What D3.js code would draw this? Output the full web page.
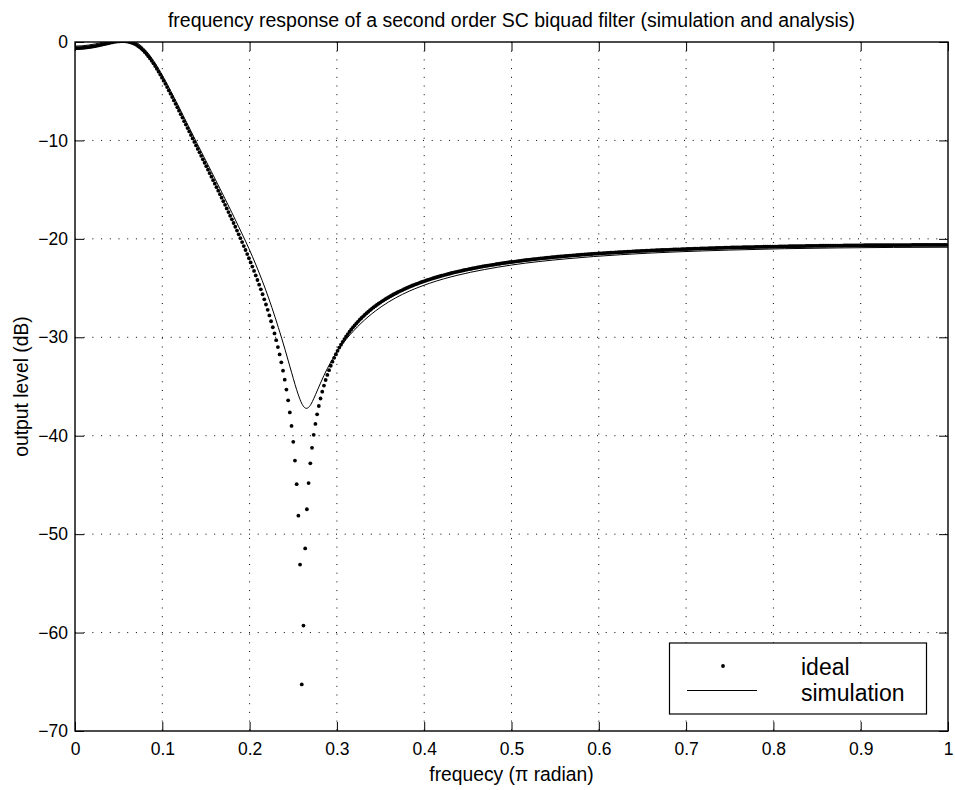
<!DOCTYPE html>
<html>
<head>
<meta charset="utf-8">
<script src="https://cdn.jsdelivr.net/npm/d3@7"></script>
<style>
    body { margin: 0; background: #fff; }
    text { font-family: "Liberation Sans", Arial, Helvetica, sans-serif; fill: #000; }
</style>
</head>
<body>
<div id="chart"></div>
<script>
// ideal response, one value per freqz bin (512 bins over 0..pi)
const idealLevel = [
    -0.64, -0.63, -0.63, -0.62, -0.60, -0.59, -0.57, -0.55, -0.53, -0.50, -0.47, -0.44, -0.41, -0.37, -0.34, -0.30,
    -0.26, -0.22, -0.18, -0.14, -0.10, -0.06, -0.03, 0.01, 0.03, 0.06, 0.07, 0.08, 0.09, 0.08, 0.07, 0.04,
    0.00, -0.05, -0.12, -0.20, -0.29, -0.41, -0.54, -0.68, -0.85, -1.03, -1.23, -1.44, -1.67, -1.91, -2.17, -2.44,
    -2.72, -3.01, -3.31, -3.62, -3.93, -4.25, -4.58, -4.92, -5.25, -5.59, -5.94, -6.28, -6.63, -6.98, -7.33, -7.68,
    -8.04, -8.39, -8.74, -9.09, -9.45, -9.80, -10.15, -10.51, -10.86, -11.21, -11.56, -11.92, -12.27, -12.62, -12.97, -13.33,
    -13.68, -14.04, -14.39, -14.75, -15.10, -15.46, -15.82, -16.18, -16.54, -16.91, -17.28, -17.65, -18.02, -18.39, -18.77, -19.16,
    -19.54, -19.93, -20.33, -20.73, -21.13, -21.55, -21.96, -22.39, -22.82, -23.26, -23.72, -24.18, -24.65, -25.13, -25.63, -26.14,
    -26.67, -27.21, -27.78, -28.37, -28.98, -29.61, -30.29, -30.99, -31.74, -32.54, -33.39, -34.31, -35.31, -36.40, -37.63, -39.01,
    -40.62, -42.53, -44.92, -48.12, -53.09, -65.27, -59.29, -51.45, -47.47, -44.81, -42.81, -41.23, -39.91, -38.80, -37.83, -36.98,
    -36.22, -35.53, -34.91, -34.34, -33.82, -33.34, -32.89, -32.48, -32.09, -31.72, -31.38, -31.05, -30.75, -30.46, -30.18, -29.92,
    -29.67, -29.44, -29.21, -28.99, -28.79, -28.59, -28.40, -28.21, -28.04, -27.87, -27.71, -27.55, -27.40, -27.25, -27.11, -26.97,
    -26.84, -26.71, -26.59, -26.47, -26.35, -26.24, -26.13, -26.03, -25.92, -25.82, -25.73, -25.63, -25.54, -25.45, -25.36, -25.28,
    -25.20, -25.11, -25.04, -24.96, -24.88, -24.81, -24.74, -24.67, -24.60, -24.54, -24.47, -24.41, -24.35, -24.29, -24.23, -24.17,
    -24.11, -24.06, -24.00, -23.95, -23.90, -23.85, -23.80, -23.75, -23.70, -23.65, -23.61, -23.56, -23.52, -23.47, -23.43, -23.39,
    -23.35, -23.31, -23.27, -23.23, -23.19, -23.15, -23.12, -23.08, -23.05, -23.01, -22.98, -22.94, -22.91, -22.88, -22.84, -22.81,
    -22.78, -22.75, -22.72, -22.69, -22.66, -22.64, -22.61, -22.58, -22.55, -22.53, -22.50, -22.47, -22.45, -22.42, -22.40, -22.37,
    -22.35, -22.33, -22.31, -22.28, -22.26, -22.24, -22.22, -22.19, -22.17, -22.15, -22.13, -22.11, -22.09, -22.07, -22.05, -22.03,
    -22.01, -21.99, -21.98, -21.96, -21.94, -21.92, -21.91, -21.89, -21.87, -21.85, -21.84, -21.82, -21.81, -21.79, -21.77, -21.76,
    -21.74, -21.73, -21.71, -21.70, -21.68, -21.67, -21.66, -21.64, -21.63, -21.61, -21.60, -21.59, -21.58, -21.56, -21.55, -21.54,
    -21.52, -21.51, -21.50, -21.49, -21.48, -21.47, -21.45, -21.44, -21.43, -21.42, -21.41, -21.40, -21.39, -21.38, -21.37, -21.36,
    -21.35, -21.34, -21.33, -21.32, -21.31, -21.30, -21.29, -21.28, -21.27, -21.26, -21.25, -21.24, -21.23, -21.22, -21.22, -21.21,
    -21.20, -21.19, -21.18, -21.17, -21.17, -21.16, -21.15, -21.14, -21.13, -21.13, -21.12, -21.11, -21.11, -21.10, -21.09, -21.08,
    -21.08, -21.07, -21.06, -21.06, -21.05, -21.04, -21.04, -21.03, -21.02, -21.02, -21.01, -21.00, -21.00, -20.99, -20.99, -20.98,
    -20.97, -20.97, -20.96, -20.96, -20.95, -20.95, -20.94, -20.94, -20.93, -20.92, -20.92, -20.91, -20.91, -20.90, -20.90, -20.89,
    -20.89, -20.88, -20.88, -20.88, -20.87, -20.87, -20.86, -20.86, -20.85, -20.85, -20.84, -20.84, -20.84, -20.83, -20.83, -20.82,
    -20.82, -20.82, -20.81, -20.81, -20.80, -20.80, -20.80, -20.79, -20.79, -20.79, -20.78, -20.78, -20.78, -20.77, -20.77, -20.77,
    -20.76, -20.76, -20.76, -20.75, -20.75, -20.75, -20.74, -20.74, -20.74, -20.74, -20.73, -20.73, -20.73, -20.72, -20.72, -20.72,
    -20.72, -20.71, -20.71, -20.71, -20.71, -20.70, -20.70, -20.70, -20.70, -20.69, -20.69, -20.69, -20.69, -20.69, -20.68, -20.68,
    -20.68, -20.68, -20.68, -20.67, -20.67, -20.67, -20.67, -20.67, -20.66, -20.66, -20.66, -20.66, -20.66, -20.66, -20.66, -20.65,
    -20.65, -20.65, -20.65, -20.65, -20.65, -20.65, -20.64, -20.64, -20.64, -20.64, -20.64, -20.64, -20.64, -20.64, -20.64, -20.64,
    -20.63, -20.63, -20.63, -20.63, -20.63, -20.63, -20.63, -20.63, -20.63, -20.63, -20.63, -20.62, -20.62, -20.62, -20.62, -20.62,
    -20.62, -20.62, -20.62, -20.62, -20.62, -20.62, -20.62, -20.62, -20.62, -20.62, -20.62, -20.62, -20.62, -20.62, -20.62, -20.62
];
const idealBins = 512;

// simulated response
const simFreq = [
    0, 0.0078, 0.0156, 0.0234, 0.0313, 0.0391, 0.0469, 0.0547, 0.0625, 0.0703,
    0.0781, 0.0859, 0.0938, 0.1094, 0.125, 0.1406, 0.1563, 0.1719, 0.1875, 0.2031,
    0.2106, 0.2181, 0.2255, 0.2292, 0.2329, 0.2367, 0.2405, 0.2443, 0.2482, 0.2520,
    0.2558, 0.2595, 0.2631, 0.2649, 0.2666, 0.2701, 0.2736, 0.2773, 0.2812, 0.2851,
    0.2892, 0.2934, 0.3017, 0.3105, 0.3193, 0.3276, 0.3438, 0.3594, 0.375, 0.4063,
    0.4375, 0.4688, 0.5, 0.5625, 0.625, 0.6875, 0.75, 0.8125, 0.875, 0.9375, 1.0
];
const simLevel = [
    -0.42, -0.39, -0.31, -0.19, -0.04, 0.13, 0.27, 0.33, 0.25, -0.04,
    -0.58, -1.39, -2.43, -4.93, -7.67, -10.44, -13.18, -15.94, -18.77, -21.77,
    -23.38, -25.10, -26.97, -27.96, -29.00, -30.08, -31.22, -32.40, -33.60, -34.78,
    -35.84, -36.68, -37.15, -37.22, -37.18, -36.83, -36.21, -35.46, -34.66, -33.89,
    -33.15, -32.46, -31.25, -30.21, -29.33, -28.58, -27.35, -26.40, -25.64, -24.51,
    -23.71, -23.12, -22.66, -22.03, -21.61, -21.33, -21.14, -21.00, -20.92, -20.87, -20.85
];

const xTicks = [0, 0.1, 0.2, 0.3, 0.4, 0.5, 0.6, 0.7, 0.8, 0.9, 1];
const xTickLabels = ['0', '0.1', '0.2', '0.3', '0.4', '0.5', '0.6', '0.7', '0.8', '0.9', '1'];
const yTicks = [0, -10, -20, -30, -40, -50, -60, -70];
const yTickLabels = ['0', '\u221210', '\u221220', '\u221230', '\u221240', '\u221250', '\u221260', '\u221270'];
const legendLabels = ['ideal', 'simulation'];

const titleText = 'frequency response of a second order SC biquad filter (simulation and analysis)';
const xLabelText = 'frequecy (\u03c0 radian)';
const yLabelText = 'output level (dB)';

function drawChart(div) {
    let config = getConfiguration(div);

    let { xScaler, yScaler } = createScaler(config);
    drawGrid(config, xScaler, yScaler);
    drawIdeal(config, xScaler, yScaler);
    drawSimulation(config, xScaler, yScaler);
    drawAxes(config, xScaler, yScaler);
    drawLegend(config);
    drawLabels(config);
}

function getConfiguration(div) {
    let width = 955, height = 790;
    let margin = { top: 42, right: 7, bottom: 59, left: 75 };
    let chartWidth = width - margin.left - margin.right;
    let chartHeight = height - margin.top - margin.bottom;

    let svg = d3.select(div).append('svg')
        .attr('width', width)
        .attr('height', height);
    let chart = svg.append('g')
        .attr('transform', `translate(${margin.left},${margin.top})`);

    chart.append('clipPath')
        .attr('id', 'plot-clip')
        .append('rect')
        .attr('width', chartWidth)
        .attr('height', chartHeight);

    return { width, height, margin, chartWidth, chartHeight, svg, chart };
}

function createScaler(config) {
    let { chartWidth, chartHeight } = config;

    let xScaler = d3.scaleLinear()
        .domain([0, 1])
        .range([0, chartWidth]);

    let yScaler = d3.scaleLinear()
        .domain([-70, 0])
        .range([chartHeight, 0]);

    return { xScaler, yScaler };
}

function drawGrid(config, xScaler, yScaler) {
    let { chart, chartWidth, chartHeight } = config;
    let grid = chart.append('g').attr('class', 'grid')
        .attr('stroke', '#000')
        .attr('stroke-width', 1)
        .attr('stroke-dasharray', '1 7.7');

    grid.selectAll('.vgrid')
        .data(xTicks.slice(1, -1))
        .enter()
        .append('line')
        .attr('x1', d => xScaler(d))
        .attr('x2', d => xScaler(d))
        .attr('y1', 0)
        .attr('y2', chartHeight);

    grid.selectAll('.hgrid')
        .data(yTicks.slice(1, -1))
        .enter()
        .append('line')
        .attr('x1', 0)
        .attr('x2', chartWidth)
        .attr('y1', d => yScaler(d))
        .attr('y2', d => yScaler(d));
}

function drawIdeal(config, xScaler, yScaler) {
    let { chart } = config;
    chart.append('g')
        .attr('class', 'ideal')
        .attr('clip-path', 'url(#plot-clip)')
        .selectAll('circle')
        .data(idealLevel)
        .enter()
        .append('circle')
        .attr('cx', (d, i) => xScaler(i / idealBins))
        .attr('cy', d => yScaler(d))
        .attr('r', 1.9)
        .attr('fill', '#000');
}

function drawSimulation(config, xScaler, yScaler) {
    let { chart } = config;
    let line = d3.line()
        .x(d => xScaler(d[0]))
        .y(d => yScaler(d[1]))
        .curve(d3.curveMonotoneX);

    chart.append('path')
        .datum(d3.zip(simFreq, simLevel))
        .attr('class', 'simulation')
        .attr('clip-path', 'url(#plot-clip)')
        .attr('d', line)
        .attr('fill', 'none')
        .attr('stroke', '#000')
        .attr('stroke-width', 1);
}

function drawAxes(config, xScaler, yScaler) {
    let { chart, chartWidth, chartHeight } = config;
    let tickFont = 17.5;

    let xAxis = d3.axisBottom(xScaler)
        .tickValues(xTicks)
        .tickFormat((d, i) => xTickLabels[i])
        .tickSizeInner(-9)
        .tickSizeOuter(0)
        .tickPadding(11.6);
    let yAxis = d3.axisLeft(yScaler)
        .tickValues(yTicks)
        .tickFormat((d, i) => yTickLabels[i])
        .tickSizeInner(-9)
        .tickSizeOuter(0)
        .tickPadding(7);
    let topAxis = d3.axisTop(xScaler).tickValues(xTicks).tickFormat('').tickSizeInner(-9).tickSizeOuter(0);
    let rightAxis = d3.axisRight(yScaler).tickValues(yTicks).tickFormat('').tickSizeInner(-9).tickSizeOuter(0);

    let axes = [
        chart.append('g').attr('class', 'x-axis').attr('transform', `translate(0,${chartHeight})`).call(xAxis),
        chart.append('g').attr('class', 'y-axis').call(yAxis),
        chart.append('g').attr('class', 'top-axis').call(topAxis),
        chart.append('g').attr('class', 'right-axis').attr('transform', `translate(${chartWidth},0)`).call(rightAxis)
    ];
    axes.forEach(g => {
        g.attr('font-size', tickFont).attr('font-family', null);
        g.select('.domain').remove();
        g.selectAll('.tick line').attr('stroke', '#000').attr('stroke-width', 1);
    });

    chart.append('rect')
        .attr('class', 'box')
        .attr('width', chartWidth)
        .attr('height', chartHeight)
        .attr('fill', 'none')
        .attr('stroke', '#000')
        .attr('stroke-width', 1.4);
}

function drawLegend(config) {
    let { svg } = config;
    let legend = svg.append('g').attr('class', 'legend');

    legend.append('rect')
        .attr('x', 669.5)
        .attr('y', 643)
        .attr('width', 257)
        .attr('height', 71)
        .attr('fill', '#fff')
        .attr('stroke', '#000')
        .attr('stroke-width', 1.2);

    legend.append('circle')
        .attr('cx', 723)
        .attr('cy', 666)
        .attr('r', 1.9)
        .attr('fill', '#000');

    legend.append('line')
        .attr('x1', 687)
        .attr('x2', 757)
        .attr('y1', 690.5)
        .attr('y2', 690.5)
        .attr('stroke', '#000')
        .attr('stroke-width', 1);

    legend.selectAll('text')
        .data(legendLabels)
        .enter()
        .append('text')
        .attr('x', 801)
        .attr('y', (d, i) => 675 + i * 26)
        .attr('font-size', 23)
        .text(d => d);
}

function drawLabels(config) {
    let { svg, margin, chartWidth, chartHeight } = config;
    let cx = margin.left + chartWidth / 2;
    let cy = margin.top + chartHeight / 2;

    svg.append('text')
        .attr('x', cx)
        .attr('y', 27)
        .attr('text-anchor', 'middle')
        .attr('font-size', 19.5)
        .text(titleText);

    svg.append('text')
        .attr('x', cx)
        .attr('y', 781)
        .attr('text-anchor', 'middle')
        .attr('font-size', 19.3)
        .text(xLabelText);

    svg.append('text')
        .attr('transform', `translate(28,${cy}) rotate(-90)`)
        .attr('text-anchor', 'middle')
        .attr('font-size', 19.3)
        .text(yLabelText);
}

drawChart('#chart');
</script>
</body>
</html>
